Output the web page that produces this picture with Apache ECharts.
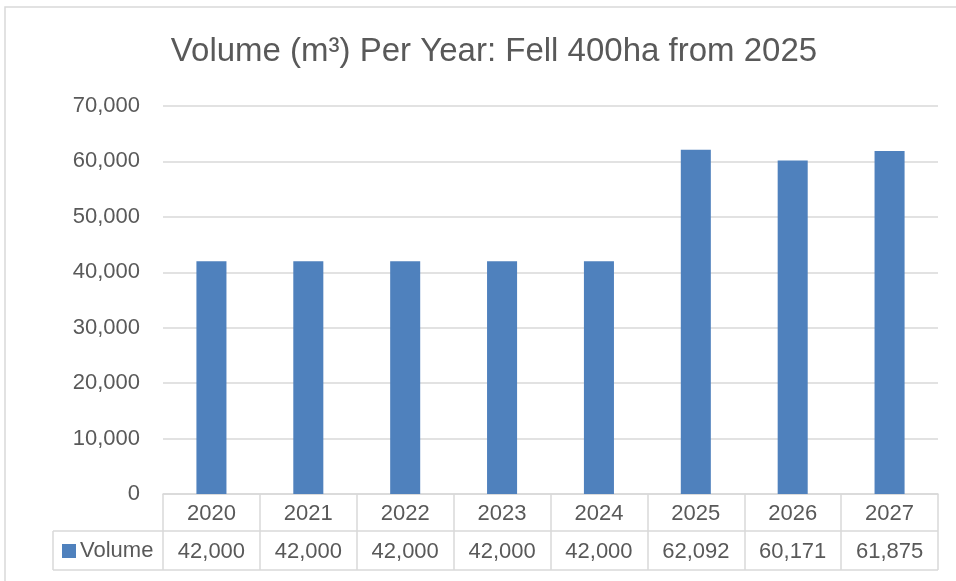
<!DOCTYPE html>
<html>
<head>
<meta charset="utf-8">
<script src="https://cdn.jsdelivr.net/npm/echarts@6/dist/echarts.min.js"></script>
<style>
  html, body { margin: 0; padding: 0; background: #fff; }
  #main { width: 956px; height: 581px; }
</style>
</head>
<body>
<div id="main"></div>
<script>
var years = ['2020', '2021', '2022', '2023', '2024', '2025', '2026', '2027'];
var volume = [42000, 42000, 42000, 42000, 42000, 62092, 60171, 61875];
var yTicks = { min: 0, max: 70000, step: 10000 };

var gridColor = '#D9D9D9';
var textColor = '#595959';
var font = 'Liberation Sans';

function fmt(n) {
    return n === 0 ? '0' : n.toLocaleString('en-US');
}

var myChart = echarts.init(document.getElementById('main'));

var option = {
    animation: false,
    textStyle: { fontFamily: font },
    title: {
        text: 'Volume (m³) Per Year: Fell 400ha from 2025',
        left: 489,
        textAlign: 'center',
        top: 30,
        textStyle: { fontSize: 33, fontWeight: 'normal', color: textColor, fontFamily: font }
    },
    legend: {
        data: ['Volume'],
        left: 62,
        top: 540,
        padding: 0,
        icon: 'rect',
        itemWidth: 14,
        itemHeight: 14,
        itemGap: 5,
        textStyle: { fontSize: 22, color: textColor, fontFamily: font, padding: [0, 0, 0, -1] }
    },
    grid: { left: 163, right: 18, top: 106, bottom: 87 },
    xAxis: [
        {
            type: 'category',
            data: years,
            position: 'bottom',
            axisLine: { lineStyle: { color: gridColor, width: 1.5 } },
            axisTick: { show: true, interval: 0, length: 76, lineStyle: { color: gridColor, width: 1.5 } },
            axisLabel: { interval: 0, margin: 9, fontSize: 22, color: textColor, fontFamily: font }
        },
        {
            type: 'category',
            data: years,
            position: 'bottom',
            axisLine: { show: false },
            axisTick: { show: false },
            axisLabel: {
                interval: 0, margin: 47, fontSize: 22, color: textColor, fontFamily: font,
                formatter: function (v, i) { return fmt(volume[i]); }
            }
        }
    ],
    yAxis: {
        type: 'value',
        min: yTicks.min,
        max: yTicks.max,
        interval: yTicks.step,
        axisLine: { show: false },
        axisTick: { show: false },
        axisLabel: { margin: 23, fontSize: 22, color: textColor, fontFamily: font, formatter: fmt },
        splitLine: { lineStyle: { color: gridColor, width: 1.5 } }
    },
    series: [{
        name: 'Volume',
        type: 'bar',
        data: volume,
        barWidth: '31%',
        itemStyle: { color: '#4F81BD' }
    }],
    graphic: [
        // outer chart frame
        { type: 'rect', shape: { x: 5, y: 7, width: 1000, height: 700 }, style: { fill: 'none', stroke: gridColor, lineWidth: 1.5 }, silent: true },
        // data table frame
        { type: 'line', shape: { x1: 53, y1: 531, x2: 938, y2: 531 }, style: { stroke: gridColor, lineWidth: 1.5 } },
        { type: 'line', shape: { x1: 53, y1: 570, x2: 938, y2: 570 }, style: { stroke: gridColor, lineWidth: 1.5 } },
        { type: 'line', shape: { x1: 53, y1: 531, x2: 53, y2: 570 }, style: { stroke: gridColor, lineWidth: 1.5 } }
    ]
};

myChart.setOption(option);
</script>
</body>
</html>
